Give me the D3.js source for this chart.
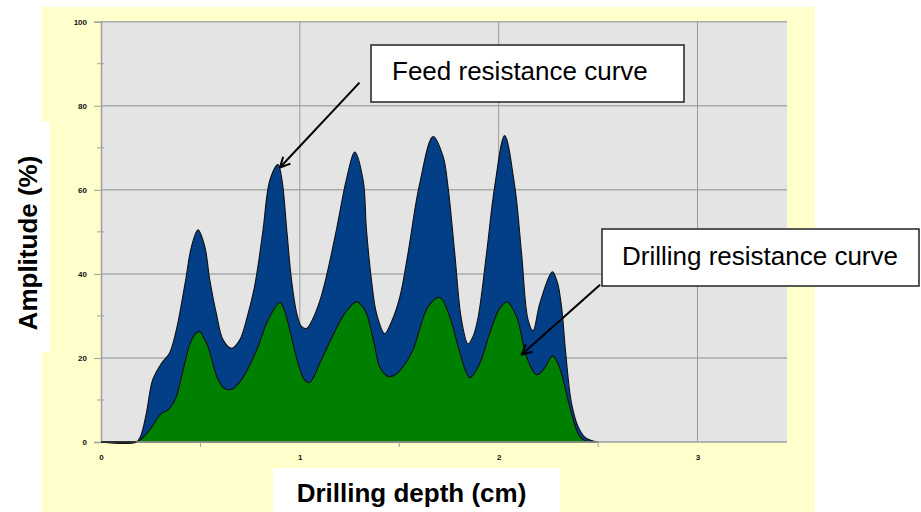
<!DOCTYPE html>
<html>
<head>
<meta charset="utf-8">
<script src="https://cdn.jsdelivr.net/npm/d3@7/dist/d3.min.js"></script>
<style>
  body { margin: 0; background: #fff; }
  svg { display: block; font-family: "Liberation Sans", Arial, sans-serif; }
</style>
</head>
<body>
<div id="chart"></div>
<script>
'use strict';

// [depth (cm), amplitude (%)]
const feedCurve = [
  [0, 0], [0.178, 0], [0.2, 1.5], [0.228, 6.8], [0.26, 14.8], [0.304, 18.7], [0.345, 21.2],
  [0.379, 26.7], [0.396, 30.6], [0.426, 38.6], [0.455, 46.5], [0.488, 50.5], [0.522, 46.5],
  [0.547, 38.6], [0.58, 30.6], [0.614, 24.3], [0.656, 22.3], [0.698, 24.3], [0.74, 30.6],
  [0.768, 36], [0.79, 42], [0.815, 50.5], [0.85, 62.4], [0.89, 66], [0.91, 62.4], [0.935, 50],
  [0.958, 38.6], [0.985, 30.5], [1.008, 27.5], [1.033, 27], [1.06, 28.8], [1.1, 33.5],
  [1.134, 39.5], [1.184, 50.5], [1.234, 62.4], [1.276, 69], [1.318, 62.4], [1.335, 50.5],
  [1.36, 38.6], [1.385, 30.7], [1.427, 25.8], [1.46, 28.5], [1.503, 34.5], [1.544, 44.9],
  [1.6, 60.8], [1.67, 72.7], [1.72, 68], [1.745, 60.8], [1.779, 44.9], [1.813, 29],
  [1.846, 23.3], [1.87, 25], [1.896, 29.5], [1.939, 44.9], [1.98, 60.8], [2.03, 72.9],
  [2.081, 60.8], [2.115, 44.9], [2.148, 29], [2.173, 26.5], [2.207, 33], [2.27, 40.5],
  [2.295, 38], [2.316, 32.2], [2.337, 21.2], [2.366, 9.3], [2.4, 3.6], [2.44, 0.9], [2.5, 0]
];

const drillCurve = [
  [0, 0], [0.178, 0], [0.2, 0.6], [0.245, 2.9], [0.304, 6.8], [0.337, 7.6], [0.36, 9],
  [0.379, 10.8], [0.421, 18.7], [0.443, 22.7], [0.47, 25.5], [0.497, 26.3], [0.52, 24.5],
  [0.538, 22.7], [0.589, 14.8], [0.62, 12.8], [0.656, 12.5], [0.706, 14.8], [0.75, 18.5],
  [0.79, 22.7], [0.84, 29], [0.9, 33.2], [0.925, 31], [0.949, 26.7], [0.991, 18.7],
  [1.02, 15], [1.046, 14.1], [1.07, 15.5], [1.1, 18.7], [1.176, 26.3], [1.226, 30.6],
  [1.285, 33.4], [1.31, 32.5], [1.335, 30.6], [1.377, 22.7], [1.40, 18], [1.444, 15.6],
  [1.48, 16], [1.519, 17.9], [1.569, 21.9], [1.645, 32.2], [1.704, 34.4], [1.754, 29.8],
  [1.796, 22.7], [1.838, 16.4], [1.855, 15.3], [1.905, 18.7], [1.955, 25.9], [2.005, 31.8],
  [2.042, 33.3], [2.09, 29.8], [2.14, 20.3], [2.19, 16], [2.23, 17.5], [2.27, 20.5],
  [2.295, 19], [2.316, 16.3], [2.366, 6.8], [2.408, 1.3], [2.45, 0], [2.5, 0]
];

const xTicks = [0, 1, 2, 3];
const xMinorTicks = [0.5, 1.5, 2.5];
const yTicks = [0, 20, 40, 60, 80, 100];
const yMinorTicks = [10, 30, 50, 70, 90];

const xTitle = 'Drilling depth (cm)';
const yTitle = 'Amplitude (%)';

// annotation: label, arrow tail and head in data units
const notes = [
  {label: 'Feed resistance curve', tail: [1.30, 85.5], head: [0.9, 65.3]},
  {label: 'Drilling resistance curve', tail: [2.51, 37.4], head: [2.116, 20.8]}
];

const width = 921;
const height = 512;
const margin = {left: 101, top: 21.7, right: 134, bottom: 70};

const svg = d3.select('#chart').append('svg')
  .attr('width', width)
  .attr('height', height);

svg.append('defs').append('marker')
  .attr('id', 'arrow')
  .attr('viewBox', '0 0 12 12')
  .attr('refX', 11)
  .attr('refY', 6)
  .attr('markerWidth', 12)
  .attr('markerHeight', 12)
  .attr('markerUnits', 'userSpaceOnUse')
  .attr('orient', 'auto')
  .append('path')
  .attr('d', 'M1,1 L11,6 L1,11')
  .attr('fill', 'none')
  .attr('stroke', '#000')
  .attr('stroke-width', 2);

// yellow backdrop
svg.append('rect')
  .attr('x', 42).attr('y', 7)
  .attr('width', 773).attr('height', 505)
  .attr('fill', '#ffffcc');

const x = d3.scaleLinear().domain([0, 3.45]).range([margin.left, width - margin.right]);
const y = d3.scaleLinear().domain([0, 100]).range([height - margin.bottom, margin.top]);

svg.append('rect')
  .attr('x', x(0)).attr('y', y(100))
  .attr('width', x(3.45) - x(0)).attr('height', y(0) - y(100))
  .attr('fill', '#e4e4e4');

// grid
svg.append('g')
  .selectAll('line')
  .data(yTicks.slice(1))
  .enter()
  .append('line')
  .attr('x1', x(0)).attr('x2', x(3.45))
  .attr('y1', d => y(d)).attr('y2', d => y(d))
  .attr('stroke', '#aaaaaa')
  .attr('stroke-width', 1.5);

svg.append('g')
  .selectAll('line')
  .data(xTicks.slice(1))
  .enter()
  .append('line')
  .attr('x1', d => x(d)).attr('x2', d => x(d))
  .attr('y1', y(0)).attr('y2', y(100))
  .attr('stroke', '#9a9a9a')
  .attr('stroke-width', 1);

// curves
const area = d3.area()
  .x(d => x(d[0]))
  .y0(y(0))
  .y1(d => y(Math.max(0, d[1])))
  .curve(d3.curveCatmullRom.alpha(0.5));

svg.append('path')
  .datum(feedCurve)
  .attr('d', area)
  .attr('fill', '#023f86')
  .attr('stroke', '#111')
  .attr('stroke-width', 1.1);

svg.append('path')
  .datum(drillCurve)
  .attr('d', area)
  .attr('fill', '#008000')
  .attr('stroke', '#111')
  .attr('stroke-width', 1.1);

// axes
const yAxis = svg.append('g')
  .attr('transform', `translate(${x(0)},0)`)
  .call(d3.axisLeft(y).tickValues(yTicks).tickSize(7).tickPadding(7));
yAxis.append('g')
  .selectAll('line')
  .data(yMinorTicks)
  .enter()
  .append('line')
  .attr('x1', -4).attr('x2', 3)
  .attr('y1', d => y(d)).attr('y2', d => y(d))
  .attr('stroke', '#a0a0a0');

const xAxis = svg.append('g')
  .attr('transform', `translate(0,${y(0)})`)
  .call(d3.axisBottom(x).tickValues(xTicks).tickSize(0).tickPadding(12).tickFormat(d3.format('d')));
xAxis.append('g')
  .selectAll('line')
  .data(xMinorTicks)
  .enter()
  .append('line')
  .attr('x1', d => x(d)).attr('x2', d => x(d))
  .attr('y1', 0).attr('y2', 5)
  .attr('stroke', '#a0a0a0');

[yAxis, xAxis].forEach(g => {
  g.select('.domain').attr('stroke', '#a0a0a0').attr('stroke-width', 1.5);
  g.selectAll('.tick line').attr('stroke', '#a0a0a0');
  g.selectAll('.tick text')
    .attr('font-size', 8)
    .attr('font-weight', 'bold')
    .attr('font-family', '"Liberation Sans", Arial, sans-serif')
    .attr('fill', '#111');
});
xAxis.select('.domain').attr('d', `M${x(0)},0H${x(3.45)}`);

// flat zero stretch of the outline, on top of the axis line
svg.append('line')
  .attr('x1', x(0)).attr('x2', x(feedCurve[1][0]))
  .attr('y1', y(0)).attr('y2', y(0))
  .attr('stroke', '#111')
  .attr('stroke-width', 1.5);

// axis titles in white boxes
svg.append('rect')
  .attr('x', 0).attr('y', 122).attr('width', 50).attr('height', 230)
  .attr('fill', '#fff');
svg.append('text')
  .attr('transform', 'translate(37,243) rotate(-90)')
  .attr('text-anchor', 'middle')
  .attr('font-size', 26)
  .attr('font-weight', 'bold')
  .text(yTitle);

svg.append('rect')
  .attr('x', 273).attr('y', 468).attr('width', 287).attr('height', 44)
  .attr('fill', '#fff');
svg.append('text')
  .attr('x', 411.5).attr('y', 502)
  .attr('text-anchor', 'middle')
  .attr('font-size', 26)
  .attr('font-weight', 'bold')
  .text(xTitle);

// annotations
const boxes = [
  {x: 371, y: 45, w: 313, h: 57, tx: 392, ty: 80},
  {x: 602, y: 229, w: 317, h: 57, tx: 622, ty: 265}
];

notes.forEach((n, i) => {
  svg.append('line')
    .attr('x1', x(n.tail[0])).attr('y1', y(n.tail[1]))
    .attr('x2', x(n.head[0])).attr('y2', y(n.head[1]))
    .attr('stroke', '#000')
    .attr('stroke-width', 2)
    .attr('marker-end', 'url(#arrow)');
  const b = boxes[i];
  svg.append('rect')
    .attr('x', b.x).attr('y', b.y).attr('width', b.w).attr('height', b.h)
    .attr('fill', '#fff')
    .attr('stroke', '#222')
    .attr('stroke-width', 1.5);
  svg.append('text')
    .attr('x', b.tx).attr('y', b.ty)
    .attr('font-size', 26)
    .attr('fill', '#000')
    .attr('textLength', null)
    .text(n.label);
});
</script>
</body>
</html>
